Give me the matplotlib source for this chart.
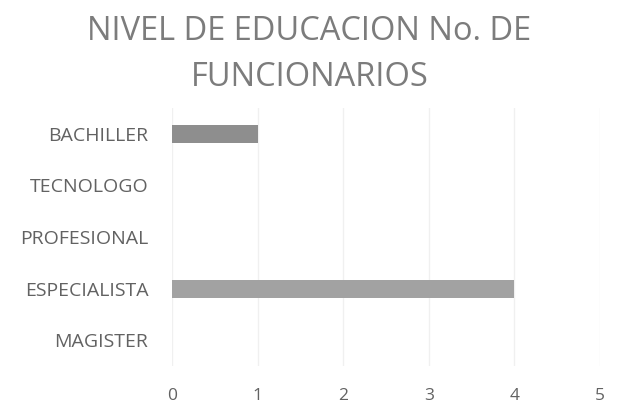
import matplotlib
matplotlib.use("Agg")
import matplotlib.pyplot as plt

categories = ["BACHILLER", "TECNOLOGO", "PROFESIONAL", "ESPECIALISTA", "MAGISTER"]
values = [1, 0, 0, 4, 0]
xticks = [0, 1, 2, 3, 4, 5]
title = "NIVEL DE EDUCACION No. DE\nFUNCIONARIOS"

plt.rcParams['font.family'] = ['Open Sans', 'DejaVu Sans']

fig = plt.figure(figsize=(6.19, 4.04), dpi=100)
ax = fig.add_axes([0.278, 0.094, 0.691, 0.639])

ypos = list(range(len(categories)))
ax.barh(ypos, values, height=0.35, color=["#8e8e8e", "#9c9c9c", "#9c9c9c", "#a2a2a2", "#9c9c9c"])
ax.set_yticks(ypos)
ax.set_yticklabels(categories, fontsize=14, color="#626262")
ax.set_ylim(len(categories) - 0.5, -0.5)
ax.set_xlim(0, 5)
ax.set_xticks(xticks)
ax.set_xticklabels([str(t) for t in xticks], fontsize=12.5, color="#626262")
ax.tick_params(axis='both', length=0)
ax.tick_params(axis='x', pad=16)
ax.tick_params(axis='y', pad=17)
ax.grid(axis='x', color="#f0f0f0", linewidth=1)
ax.set_axisbelow(True)
for s in ax.spines.values():
    s.set_visible(False)

fig.text(0.5, 0.866, title, ha='center', va='center', fontsize=23.5, color="#7c7c7c", linespacing=1.52)

fig.savefig("out.png", dpi=100, facecolor="white")
